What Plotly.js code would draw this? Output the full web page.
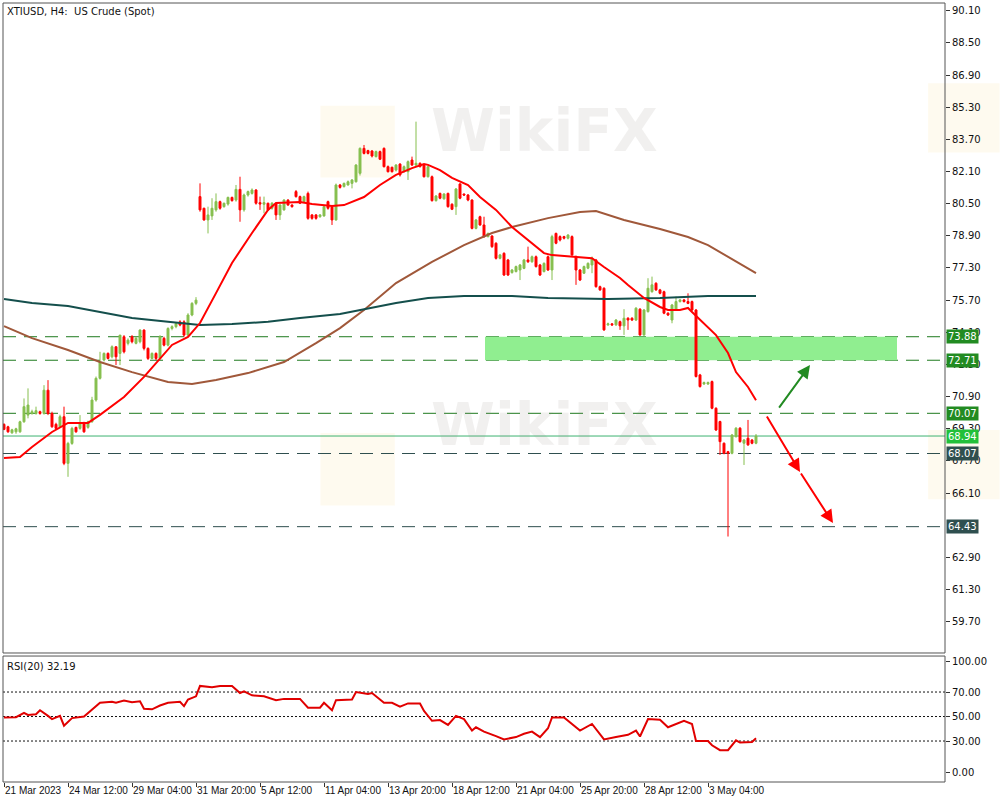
<!DOCTYPE html>
<html>
<head>
<meta charset="utf-8">
<script src="https://cdn.plot.ly/plotly-3.0.1.min.js"></script>
<style>html,body{margin:0;padding:0;background:#fff;}#chart{width:1000px;height:800px;}</style>
</head>
<body>
<div id="chart"></div>
<script>
// ---- candle data (H4 bars, index 0..188) ----
const open = [69.52,69.40,69.10,69.15,69.15,69.65,69.98,70.06,70.06,70.15,70.06,71.22,70.06,69.52,69.40,69.90,67.58,68.57,69.37,69.32,69.60,69.37,69.65,70.73,71.81,72.72,73.05,72.88,73.38,73.05,73.88,73.55,73.88,73.55,73.63,74.21,73.30,72.80,73.05,72.80,73.80,73.46,74.29,74.38,74.62,74.62,73.96,74.96,75.54,
80.85,80.27,79.69,79.89,80.19,80.60,80.35,80.48,80.81,80.68,81.21,80.19,80.93,81.01,81.18,80.55,80.47,80.52,80.27,80.48,79.94,80.19,80.68,80.43,81.10,80.85,80.60,81.01,79.94,79.94,79.85,79.89,80.60,80.35,79.69,81.43,81.35,81.43,81.51,81.59,82.01,83.25,83.14,83.12,82.84,83.09,83.25,82.34,82.31,82.17,82.47,82.09,82.09,82.67,82.42,82.51,82.42,81.84,81.84,80.65,81.01,80.74,81.01,80.47,80.35,81.48,80.98,80.93,80.68,79.27,79.85,79.44,78.86,78.89,78.53,77.78,78.03,77.70,77.07,77.12,77.20,77.28,77.70,77.61,77.86,77.45,77.12,77.86,77.20,79.02,78.86,78.86,78.78,78.86,77.87,77.20,77.04,77.29,77.45,77.70,76.37,76.29,74.47,74.52,74.47,74.63,74.42,74.80,74.80,74.71,75.25,73.97,75.13,76.12,76.54,76.21,76.12,75.05,74.71,75.21,75.63,75.71,75.63,75.63,75.21,71.98,71.53,71.53,71.65,70.32,69.66,68.58,68.16,68.08,68.91,69.33,68.58,68.83,68.74,68.58];
const high = [69.57,69.45,69.30,69.35,69.70,70.81,71.31,70.25,70.40,70.20,71.47,71.72,70.15,69.60,70.00,70.40,68.65,69.40,69.40,69.98,69.65,69.70,70.89,71.90,73.13,73.10,73.10,73.45,73.40,73.96,73.96,73.80,73.96,73.88,74.25,74.25,73.35,73.10,73.10,73.96,73.88,74.35,74.45,74.60,74.70,74.70,75.05,75.60,75.85,
81.51,80.30,80.35,80.77,81.01,80.65,80.55,80.85,80.85,81.43,81.84,81.00,81.15,81.26,81.22,80.85,80.85,80.55,80.58,80.52,80.48,80.72,80.72,80.47,81.18,80.90,80.90,81.10,79.98,79.98,79.98,80.40,80.65,80.40,81.50,81.48,81.55,81.65,81.72,82.47,83.30,83.42,83.18,83.17,83.14,83.14,83.30,82.40,82.34,82.47,82.51,82.40,82.65,82.84,84.58,82.55,82.47,82.40,81.90,80.93,81.05,81.02,81.05,80.52,81.28,81.52,81.00,80.98,80.72,79.74,79.90,79.85,79.06,78.93,78.58,78.00,78.08,77.75,77.25,77.42,77.50,77.75,78.36,77.92,77.92,77.50,77.58,77.92,78.95,79.06,78.92,78.90,78.98,78.92,77.92,77.25,77.42,77.58,77.87,77.75,76.42,76.34,74.58,74.56,74.76,74.68,75.25,74.85,74.85,75.35,75.30,75.26,76.79,76.87,76.59,76.26,76.17,75.10,75.51,75.88,75.76,75.76,76.04,75.68,75.26,72.03,71.65,71.65,71.70,70.37,69.70,68.62,68.20,69.04,69.38,69.38,68.79,69.74,68.79,69.04];
const low = [69.23,69.10,69.05,69.05,69.10,69.60,69.82,70.00,70.00,70.00,70.00,69.98,69.35,69.25,69.35,67.49,66.91,68.50,69.10,69.25,69.10,69.30,69.60,70.65,71.75,72.65,72.75,72.80,72.47,72.47,73.05,73.45,73.55,73.50,73.55,73.20,72.72,72.75,72.72,72.75,73.40,73.40,74.20,74.30,74.40,73.88,73.90,74.90,75.45,
80.10,79.65,79.02,79.69,80.10,80.20,80.30,80.40,80.60,80.60,79.60,80.10,80.85,80.95,80.45,80.19,80.02,80.15,80.20,79.69,79.69,80.15,80.40,80.30,80.80,80.48,80.55,79.70,79.70,79.70,79.80,79.85,80.20,79.44,79.65,81.25,81.30,81.40,81.26,81.55,81.90,82.95,82.95,82.80,82.80,82.67,82.30,82.05,82.05,82.10,81.85,82.05,81.68,82.38,82.34,82.30,81.80,81.80,80.60,80.60,80.72,80.70,80.30,80.18,79.94,80.72,80.88,80.62,79.22,79.22,79.40,78.80,78.82,78.30,77.72,77.73,76.90,76.90,77.02,77.08,76.70,77.24,77.55,77.56,77.32,76.90,77.08,77.15,76.70,78.48,78.62,78.72,78.72,77.90,76.46,76.65,77.00,77.24,77.04,76.32,76.16,74.17,74.42,74.42,74.42,74.22,73.97,74.22,74.66,74.66,73.92,73.92,75.08,76.07,76.16,75.99,75.00,74.91,74.55,75.16,75.58,75.58,75.50,75.16,71.85,71.35,71.48,71.48,70.27,69.19,68.00,68.03,63.94,68.03,68.86,68.61,67.50,68.45,68.53,68.53];
const close = [69.27,69.15,69.25,69.30,69.65,70.40,70.48,70.15,70.20,70.06,71.22,70.06,69.40,69.32,69.90,67.58,68.57,69.32,69.15,69.57,69.15,69.65,70.73,71.81,72.63,73.05,72.80,73.38,72.88,73.96,73.13,73.71,73.63,73.80,74.21,73.30,72.80,73.05,72.80,73.88,73.46,74.29,74.38,74.54,74.46,73.96,74.96,75.54,75.70,
80.19,79.69,79.94,80.27,80.60,80.27,80.52,80.81,80.65,81.21,80.19,80.93,81.10,81.18,80.52,80.48,80.55,80.19,80.52,79.94,80.43,80.68,80.43,80.35,80.85,80.52,80.85,79.77,79.77,79.77,79.94,80.35,80.27,79.69,81.43,81.31,81.51,81.59,81.68,82.42,83.25,83.00,83.00,82.87,83.09,82.71,82.34,82.09,82.09,82.42,81.93,82.34,82.59,82.42,82.51,82.34,81.84,82.34,80.65,80.88,80.77,80.98,80.35,80.22,81.23,80.77,80.93,80.68,79.27,79.69,79.44,78.86,79.02,78.36,77.78,77.95,76.95,76.95,77.20,77.37,77.45,77.70,77.61,77.86,77.37,76.95,77.53,77.20,78.86,78.53,78.69,78.78,78.94,77.95,77.20,76.70,77.37,77.53,77.78,76.37,76.21,74.22,74.52,74.47,74.71,74.42,74.80,74.71,74.71,75.30,73.97,75.21,76.29,76.46,76.21,76.04,75.05,74.96,75.46,75.63,75.71,75.63,75.54,75.21,71.90,71.40,71.60,71.60,70.32,69.24,68.66,68.08,68.08,68.99,69.33,68.66,68.74,68.50,68.58,68.94];

// ---- moving averages (bar index, value) ----
const maRedIdx = [0,4,7,12,16,21,24,30,35,39,42,46,49,53,57,62,66,68,74,77,82,85,90,94,98,102,105,106,109,112,116,119,123,127,132,135,137,141,147,150,154,156,160,164,166,169,171,172,176,178,181,183,186,188];
const maRedVal = [67.85,67.89,68.39,69.14,69.59,69.59,69.99,70.88,71.88,72.82,73.47,73.87,74.56,76.05,77.55,79.04,80.19,80.53,80.58,80.48,80.38,80.43,80.83,81.43,81.93,82.27,82.47,82.43,82.17,81.78,81.43,80.83,80.19,79.34,78.54,78.04,77.94,77.89,77.79,77.35,76.80,76.45,75.81,75.36,75.21,75.21,75.31,75.11,74.37,73.96,73.07,72.12,71.38,70.72];
const maBrownIdx = [0,7,16,24,32,41,47,53,61,70,78,84,90,98,107,115,122,127,136,144,148,152,155,164,171,176,181,188];
const maBrownVal = [74.41,73.81,73.22,72.62,72.12,71.63,71.53,71.73,72.07,72.62,73.56,74.31,75.21,76.55,77.60,78.44,79.04,79.34,79.78,80.08,80.13,79.88,79.69,79.24,78.84,78.44,77.85,77.04];
const maTealIdx = [0,7,16,24,32,41,49,57,66,74,84,98,106,115,127,136,151,164,176,188];
const maTealVal = [75.76,75.56,75.41,75.11,74.81,74.62,74.46,74.51,74.62,74.81,75.01,75.56,75.81,75.91,75.91,75.81,75.76,75.81,75.91,75.91];

// ---- RSI(20) ----
const rsiIdx = [0,3,5,6,8,9,11,12,14,15,17,20,24,27,28,30,32,34,35,37,39,41,44,45,46,48,49,52,54,57,59,60,62,65,68,70,74,76,79,80,82,83,87,88,91,92,95,97,99,101,104,105,107,109,111,113,115,117,118,120,123,125,128,130,132,134,136,137,140,143,144,147,150,153,156,158,159,161,164,166,170,172,173,176,177,179,181,183,184,187,188];
const rsiVal = [49.2,49.5,53.0,51.3,51.9,55.1,50.5,47.9,50.5,42.5,48.7,50.0,61.2,62.0,61.2,63.0,61.7,62.5,56.4,55.9,59.0,61.2,62.0,58.5,63.9,66.5,75.0,74.0,75.0,75.0,69.2,70.5,67.3,66.5,63.3,64.4,64.4,57.2,57.2,61.2,55.1,63.3,63.9,70.0,68.4,69.2,61.2,61.2,58.0,60.7,60.7,54.5,46.5,47.1,43.1,50.5,47.9,38.5,41.2,37.7,34.0,31.3,33.2,35.9,37.7,33.2,40.4,49.2,49.2,41.2,38.5,43.9,31.3,33.2,35.1,38.5,33.7,47.9,47.3,41.2,46.5,43.9,30.0,30.0,26.5,22.5,22.5,30.5,28.7,29.2,32.19];
const rsiLevels = [70, 50, 30];

// ---- axis labels ----
const tickBars = [0,16,32,48,64,80,96,112,128,144,160,176];
const tickLabels = ['21 Mar 2023','24 Mar 12:00','29 Mar 04:00','31 Mar 20:00','5 Apr 12:00','11 Apr 04:00','13 Apr 20:00','18 Apr 12:00','21 Apr 04:00','25 Apr 20:00','28 Apr 12:00','3 May 04:00'];
const priceTicks = [90.10,88.50,86.90,85.30,83.70,82.10,80.50,78.90,77.30,75.70,74.10,72.50,70.90,69.30,67.70,66.10,64.50,62.90,61.30,59.70];
const hiddenPriceTicks = [64.50]; // fully covered by the 64.43 level label in the original

// ---- drawn levels ----
const levels = [73.88, 72.71, 70.07, 68.94, 68.07, 64.43];
const levelColors = ['#1f7a1f','#1f7a1f','#1f7a1f','#3cb371','#2f4f4f','#2f4f4f'];
const levelLabelBg = ['#228b22','#228b22','#228b22','#22c03a','#2f4f4f','#2f4f4f'];
const levelDash = ['13px,8px','13px,8px','13px,8px','solid','13px,8px','13px,8px'];
const zone = {x0: 120.25, x1: 223.25, y0: 72.71, y1: 73.88};
const upArrow = {fromBar: 193.5, fromPrice: 70.28, toBar: 201.5, toPrice: 72.47};
const downPath = {bars: [190.5, 199, 207.25], prices: [69.99, 67.15, 64.61]};

const bars = open.map((_, i) => i);
const FONT = 'DejaVu Sans, Tahoma, sans-serif';
const XFONT = 'Liberation Sans, Arial, sans-serif';

const traces = [
  {type:'scatter', mode:'lines', x:maBrownIdx, y:maBrownVal, line:{color:'#a0583a', width:2}, hoverinfo:'skip', xaxis:'x', yaxis:'y'},
  {type:'scatter', mode:'lines', x:maTealIdx, y:maTealVal, line:{color:'#144f4c', width:2}, hoverinfo:'skip', xaxis:'x', yaxis:'y'},
  {type:'candlestick', x:bars, open:open, high:high, low:low, close:close, xaxis:'x', yaxis:'y',
   increasing:{line:{color:'#86bf4f', width:1}, fillcolor:'#86bf4f'},
   decreasing:{line:{color:'#ff0000', width:1}, fillcolor:'#ff0000'},
   whiskerwidth:0, hoverinfo:'skip'},
  {type:'scatter', mode:'lines', x:maRedIdx, y:maRedVal, line:{color:'#ff0000', width:2}, hoverinfo:'skip', xaxis:'x', yaxis:'y'},
  {type:'scatter', mode:'lines', x:rsiIdx, y:rsiVal, line:{color:'#e00000', width:2}, hoverinfo:'skip', xaxis:'x', yaxis:'y2'}
];

const shapes = [];
const annotations = [];

// watermark logos (faint)
[[0.337,0.776,0.416,0.868],[0.337,0.355,0.416,0.448],[0.982,0.808,1.058,0.897],[0.982,0.363,1.058,0.452]].forEach(b=>{
  shapes.push({type:'rect', xref:'paper', yref:'paper', x0:b[0], y0:b[1], x1:b[2], y1:b[3], fillcolor:'#fdf5e1', opacity:0.55, line:{width:0}, layer:'below'});
});
[[0.575,0.882],[0.575,0.458]].forEach(p=>{
  annotations.push({xref:'paper', yref:'paper', x:p[0], y:p[1], text:'<b>WikiFX</b>', showarrow:false,
    font:{family:'DejaVu Sans', size:58, color:'rgba(150,140,130,0.13)'}});
});

// zone
shapes.push({type:'rect', xref:'x', yref:'y', x0:zone.x0, x1:zone.x1, y0:zone.y0, y1:zone.y1, fillcolor:'#90ee90', line:{width:0}, layer:'below'});

// horizontal levels + labels
levels.forEach((v,i)=>{
  shapes.push({type:'line', xref:'paper', yref:'y', x0:0, x1:1, y0:v, y1:v, line:{color:levelColors[i], width:1, dash:levelDash[i]}, layer:'below'});
  annotations.push({xref:'paper', yref:'y', x:1, y:v, xanchor:'left', xshift:1, text:v.toFixed(2), showarrow:false,
    bgcolor:levelLabelBg[i], borderpad:1, font:{family:FONT, size:10, color:'#ffffff'}});
});

// RSI levels
rsiLevels.forEach(v=>{
  shapes.push({type:'line', xref:'paper', yref:'y2', x0:0, x1:1, y0:v, y1:v, line:{color:'#111', width:1, dash:'2px,2px'}, layer:'below'});
});

// panel frames
shapes.push({type:'rect', xref:'paper', yref:'y domain', x0:0, x1:1, y0:0, y1:1, line:{color:'#555', width:1}, fillcolor:'rgba(0,0,0,0)'});
shapes.push({type:'rect', xref:'paper', yref:'y2 domain', x0:0, x1:1, y0:0, y1:1, line:{color:'#555', width:1}, fillcolor:'rgba(0,0,0,0)'});

// arrows
annotations.push({xref:'x', yref:'y', axref:'x', ayref:'y', x:upArrow.toBar, y:upArrow.toPrice, ax:upArrow.fromBar, ay:upArrow.fromPrice,
  text:'', showarrow:true, arrowhead:2, arrowsize:1.3, arrowwidth:2, arrowcolor:'#228b22'});
for (let k=0;k<downPath.bars.length-1;k++){
  annotations.push({xref:'x', yref:'y', axref:'x', ayref:'y', x:downPath.bars[k+1], y:downPath.prices[k+1], ax:downPath.bars[k], ay:downPath.prices[k],
    text:'', showarrow:true, arrowhead:2, arrowsize:1.3, arrowwidth:2, arrowcolor:'#ff0000'});
}

// titles
annotations.push({xref:'paper', yref:'paper', x:0.002, y:1, xanchor:'left', yanchor:'top', yshift:-1, text:'XTIUSD, H4:  US Crude (Spot)', showarrow:false,
  font:{family:FONT, size:10, color:'#111'}});
annotations.push({xref:'paper', yref:'y2 domain', x:0.002, y:1, xanchor:'left', yanchor:'top', yshift:-3, text:'RSI(20) 32.19', showarrow:false,
  font:{family:FONT, size:10, color:'#111'}});

// x labels (left aligned at tick like MT4)
tickBars.forEach((b,i)=>{
  annotations.push({xref:'x', yref:'paper', x:b-0.2, y:0, xanchor:'left', yanchor:'top', yshift:-1, text:tickLabels[i], showarrow:false,
    font:{family:XFONT, size:10, color:'#111'}});
});

const shownTicks = priceTicks.filter(v => !hiddenPriceTicks.includes(v));

const layout = {
  width:1000, height:800,
  margin:{l:3, r:55, t:3, b:18, pad:0},
  paper_bgcolor:'#ffffff', plot_bgcolor:'#ffffff',
  showlegend:false,
  xaxis:{range:[-0.25,235.25], anchor:'y2', showgrid:false, zeroline:false, showline:false,
    tickvals:tickBars, ticks:'outside', ticklen:4, tickcolor:'#333', showticklabels:false,
    rangeslider:{visible:false}, fixedrange:true},
  yaxis:{domain:[0.1656,1], range:[58.145,90.483], side:'right', anchor:'x', showgrid:false, zeroline:false, showline:false,
    tickvals:shownTicks, ticktext:shownTicks.map(v=>v.toFixed(2)), ticks:'outside', ticklen:4, tickcolor:'#333',
    tickfont:{family:FONT, size:10, color:'#111'}, fixedrange:true},
  yaxis2:{domain:[0,0.1617], range:[-3.47,99.39], side:'right', anchor:'x', showgrid:false, zeroline:false, showline:false,
    tickvals:[95.3,70,50,30,3.9], ticktext:['100.00','70.00','50.00','30.00','0.00'], ticks:'outside', ticklen:4, tickcolor:'#333',
    tickfont:{family:FONT, size:10, color:'#111'}, fixedrange:true},
  shapes:shapes,
  annotations:annotations
};

Plotly.newPlot('chart', traces, layout, {staticPlot:true, displayModeBar:false});
</script>
</body>
</html>
